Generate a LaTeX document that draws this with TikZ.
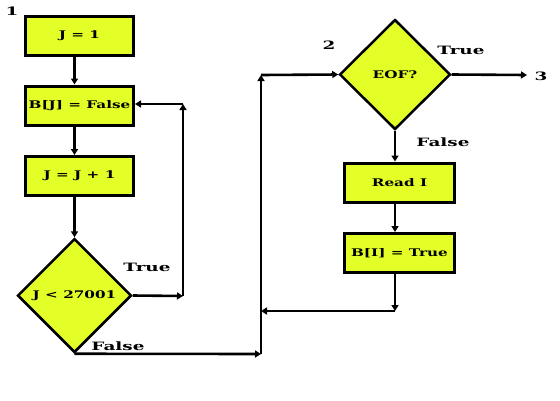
\documentclass[tikz,border=0pt]{standalone}
\usepackage{fontspec}
\newfontfamily\wf{DejaVu Serif}[FakeStretch=1.45]
\newfontfamily\wfl{DejaVu Serif}[FakeStretch=1.6]
\usetikzlibrary{arrows.meta,shapes.geometric}
\definecolor{boxfill}{RGB}{228,255,40}
\begin{document}
\begin{tikzpicture}[x=1pt,y=-1pt,
  txt/.style={font=\wf\bfseries\fontsize{10.5}{12}\selectfont},
  proc/.style={txt,draw,line width=3pt,fill=boxfill,minimum width=108pt,minimum height=39pt,inner sep=0pt},
  dec/.style={txt,draw,line width=2.5pt,fill=boxfill,diamond,inner sep=0pt},
  conn/.style={line width=2.6pt},
  arr/.style={conn,-{Triangle[length=6pt,width=7pt]}},
  lab/.style={font=\wfl\bfseries\fontsize{11.5}{13}\selectfont,inner sep=0pt}]
\useasboundingbox (0,0) rectangle (560,400);
% left column
\node[proc] (b1) at (79.5,36) {J = 1};
\node[proc] (b2) at (79.5,105.5) {B[J] = False};
\node[proc] (b3) at (79.5,176) {J = J + 1};
\node[dec,minimum width=114pt,minimum height=114pt] (d1) at (74.5,295.5) {J < 27001};
% right column
\node[dec,minimum width=111pt,minimum height=110pt] (d2) at (395,74.5) {EOF?};
\node[proc,minimum width=110pt] (r1) at (399.5,182.5) {Read I};
\node[proc,minimum width=110pt] (r2) at (399.5,253) {B[I] = True};
% corner coordinates
\coordinate (t1) at (183,296);
\coordinate (t2) at (183,104);
\coordinate (f1) at (261,354);
\coordinate (f2) at (261,75);
\coordinate (m1) at (395,311);
\coordinate (m2) at (261,311);
\coordinate (e3) at (527,75);
% connectors
\draw[arr] (b1.south -| d1) -- (b2.north -| d1);
\draw[arr] (b2.south -| d1) -- (b3.north -| d1);
\draw[arr] (b3.south -| d1) -- (d1.north);
\draw[arr] (d1.east) -- (t1);
\draw[arr] (t1) -- (t2);
\draw[arr] (t2) -- (t2 -| b2.east);
\draw[arr] (d1.south) -- (f1);
\draw[arr] (f1) -- (f2);
\draw[arr] (f2) -- (d2.west);
\draw[arr] (d2.east) -- (e3);
\draw[arr] (d2.south) -- (r1.north -| d2);
\draw[arr] (r1.south -| d2) -- (r2.north -| d2);
\draw[arr] (r2.south -| d2) -- (m1);
\draw[arr] (m1) -- (m2);
% labels
\node[lab] (n1) at (12,11) {1};
\node[lab] (n2) at (329,45) {2};
\node[lab] (n3) at (541,76) {3};
\node[lab] (tr1) at (147,267) {True};
\node[lab] (fa1) at (118,346) {False};
\node[lab] (tr2) at (461,50) {True};
\node[lab] (fa2) at (443,142) {False};
\end{tikzpicture}
\end{document}
